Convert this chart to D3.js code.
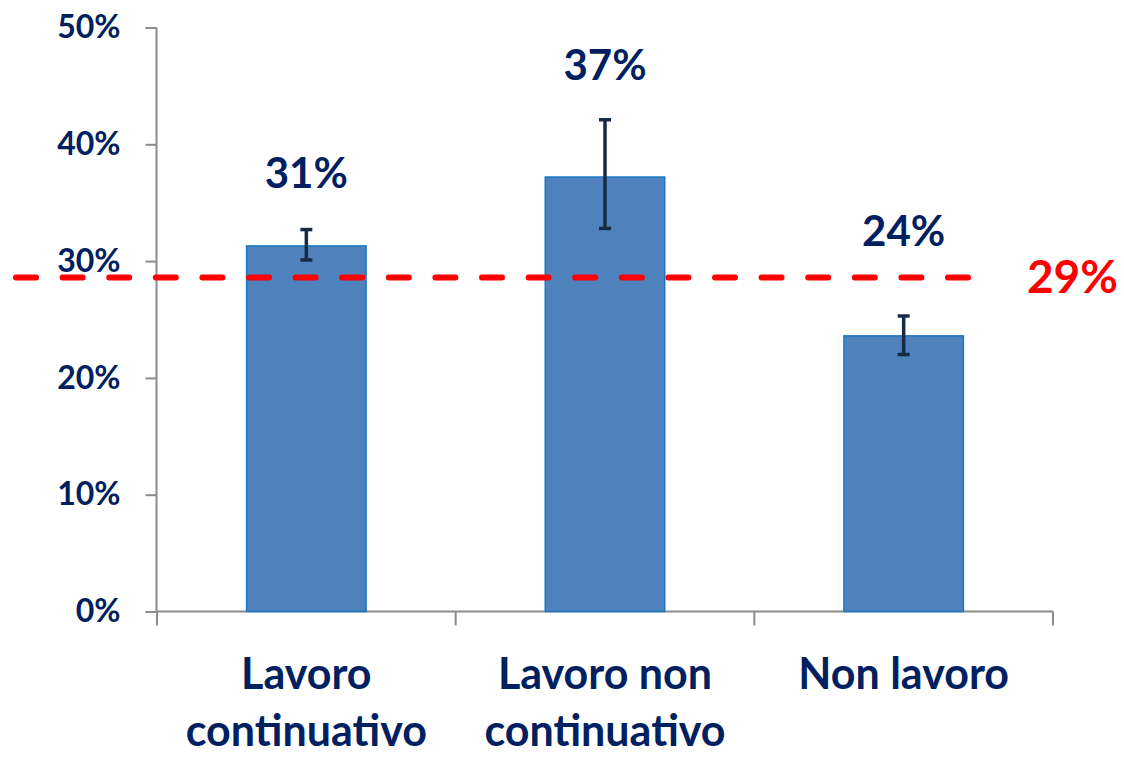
<!DOCTYPE html>
<html>
<head>
<meta charset="utf-8">
<script src="https://cdn.jsdelivr.net/npm/d3@7"></script>
<style>
  body { margin: 0; background: #fff; }
  text { font-family: Lato, "Open Sans", sans-serif; font-weight: 700; }
</style>
</head>
<body>
<div id="chart"></div>
<script>
var width = 1124,
    height = 757;

// data
var categories = [["Lavoro", "continuativo"], ["Lavoro non", "continuativo"], ["Non lavoro"]];
var values = [0.313, 0.372, 0.236];
var errLow = [0.301, 0.328, 0.220];
var errHigh = [0.327, 0.421, 0.253];
var valueLabels = ["31%", "37%", "24%"];
var average = 0.286;
var averageLabel = "29%";
var yTicks = [0, 0.1, 0.2, 0.3, 0.4, 0.5];

// px the value label sits above the whisker top
var labelLift = [42, 40, 70];

var navy = "#002060";

var svg = d3.select("#chart").append("svg")
    .attr("width", width)
    .attr("height", height);

var x = d3.scaleBand()
    .domain(d3.range(categories.length))
    .range([157, 1053])
    .paddingInner(0.6)
    .paddingOuter(0.3);

var y = d3.scaleLinear()
    .domain([0, 0.5])
    .range([611.5, 27.5]);

// y axis
var yAxis = svg.append("g")
    .attr("transform", "translate(156.5,0)")
    .call(d3.axisLeft(y).tickValues(yTicks).tickSize(11).tickPadding(25)
      .tickFormat(d3.format(".0%")));
yAxis.selectAll("line, path").attr("stroke", "#8c8c8c").attr("stroke-width", 2);
yAxis.select(".domain").attr("d", "M0," + y(0.5) + "V" + y(0));
yAxis.selectAll("text")
    .attr("fill", navy)
    .style("font-size", "32px");

// x axis (ticks between categories)
var step = x.step();
var xTickPos = d3.range(categories.length + 1).map(function(i) { return 157 + i * step; });
svg.append("line")
    .attr("x1", 157).attr("x2", 1053)
    .attr("y1", y(0)).attr("y2", y(0))
    .attr("stroke", "#8c8c8c").attr("stroke-width", 2);
svg.selectAll(".xtick")
    .data(xTickPos)
  .enter().append("line")
    .attr("x1", function(d) { return d; })
    .attr("x2", function(d) { return d; })
    .attr("y1", y(0))
    .attr("y2", y(0) + 14)
    .attr("stroke", "#8c8c8c").attr("stroke-width", 2);

// bars
svg.selectAll(".bar")
    .data(values)
  .enter().append("rect")
    .attr("x", function(d, i) { return x(i); })
    .attr("width", x.bandwidth())
    .attr("y", function(d) { return y(d); })
    .attr("height", function(d) { return y(0) - y(d); })
    .attr("fill", "#4f81bd")
    .attr("stroke", "#1a78c2")
    .attr("stroke-width", 1.5);

// error bars
var eb = svg.selectAll(".err")
    .data(values)
  .enter().append("g")
    .attr("stroke", "#172b45")
    .attr("stroke-width", 3.5);
eb.append("line")
    .attr("x1", function(d, i) { return x(i) + x.bandwidth() / 2; })
    .attr("x2", function(d, i) { return x(i) + x.bandwidth() / 2; })
    .attr("y1", function(d, i) { return y(errHigh[i]); })
    .attr("y2", function(d, i) { return y(errLow[i]); });
eb.append("line")
    .attr("x1", function(d, i) { return x(i) + x.bandwidth() / 2 - 6; })
    .attr("x2", function(d, i) { return x(i) + x.bandwidth() / 2 + 6; })
    .attr("y1", function(d, i) { return y(errHigh[i]); })
    .attr("y2", function(d, i) { return y(errHigh[i]); });
eb.append("line")
    .attr("x1", function(d, i) { return x(i) + x.bandwidth() / 2 - 6; })
    .attr("x2", function(d, i) { return x(i) + x.bandwidth() / 2 + 6; })
    .attr("y1", function(d, i) { return y(errLow[i]); })
    .attr("y2", function(d, i) { return y(errLow[i]); });

// value labels
svg.selectAll(".vlabel")
    .data(valueLabels)
  .enter().append("text")
    .attr("x", function(d, i) { return x(i) + x.bandwidth() / 2; })
    .attr("y", function(d, i) { return y(errHigh[i]) - labelLift[i]; })
    .attr("text-anchor", "middle")
    .attr("fill", navy)
    .style("font-size", "42px")
    .text(function(d) { return d; });

// average line
svg.append("line")
    .attr("x1", 16).attr("x2", 970)
    .attr("y1", y(average)).attr("y2", y(average))
    .attr("stroke", "#ff0000")
    .attr("stroke-width", 6)
    .attr("stroke-linecap", "round")
    .attr("stroke-dasharray", "20,26.6");
svg.append("text")
    .attr("x", 1118)
    .attr("y", y(average) + 16)
    .attr("text-anchor", "end")
    .attr("fill", "#ff0000")
    .style("font-size", "46px")
    .text(averageLabel);

// category labels
var cat = svg.selectAll(".cat")
    .data(categories)
  .enter().append("text")
    .attr("text-anchor", "middle")
    .attr("fill", navy)
    .style("font-size", "43px");
cat.selectAll("tspan")
    .data(function(d, i) { return d.map(function(t) { return {t: t, i: i}; }); })
  .enter().append("tspan")
    .attr("x", function(d) { return x(d.i) + x.bandwidth() / 2; })
    .attr("y", function(d, j) { return 689 + j * 57; })
    .text(function(d) { return d.t; });
</script>
</body>
</html>
